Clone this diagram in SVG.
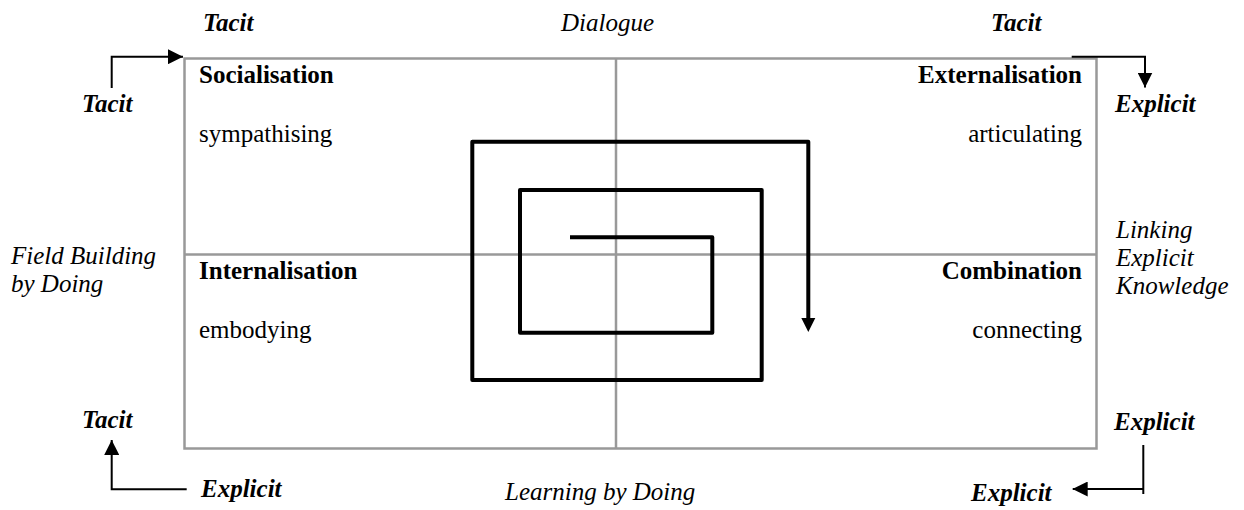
<svg xmlns="http://www.w3.org/2000/svg" width="1244" height="510" viewBox="0 0 1244 510">
<defs>
<style>
text{font-family:"Liberation Serif","Times New Roman",serif;font-size:25px;fill:#000}
.bi{font-weight:bold;font-style:italic}
.b{font-weight:bold}
.i{font-style:italic}
.grid{fill:none;stroke:#999;stroke-width:2.5}
.arr{fill:none;stroke:#000;stroke-width:2}
.spiral{fill:none;stroke:#000;stroke-width:4;stroke-linejoin:round}
</style>
<marker id="ah" viewBox="0 0 10 10" refX="10" refY="5" markerWidth="15" markerHeight="15" markerUnits="userSpaceOnUse" orient="auto">
<path d="M0,0 L10,5 L0,10 z" fill="#000"/>
</marker>
</defs>
<rect width="1244" height="510" fill="#fff"/>
<g id="matrix">
<rect class="grid" x="184.5" y="58.5" width="912" height="390"/>
<line class="grid" x1="616" y1="58.5" x2="616" y2="448.5"/>
<line class="grid" x1="184.5" y1="254.5" x2="1096.5" y2="254.5"/>
</g>
<g id="socialisation">
<text class="b" x="199" y="83">Socialisation</text>
<text x="199" y="142">sympathising</text>
</g>
<g id="externalisation">
<text class="b" x="1082" y="83" text-anchor="end">Externalisation</text>
<text x="1082" y="142" text-anchor="end">articulating</text>
</g>
<g id="internalisation">
<text class="b" x="199" y="279">Internalisation</text>
<text x="199" y="338">embodying</text>
</g>
<g id="combination">
<text class="b" x="1082" y="279" text-anchor="end">Combination</text>
<text x="1082" y="338" text-anchor="end">connecting</text>
</g>
<g id="labels">
<text class="bi" x="203" y="31">Tacit</text>
<text class="i" x="561" y="31">Dialogue</text>
<text class="bi" x="991" y="31">Tacit</text>
<text class="bi" x="82" y="112">Tacit</text>
<text class="bi" x="1115" y="112">Explicit</text>
<text class="i" x="11" y="264">Field Building</text>
<text class="i" x="11" y="291.5">by Doing</text>
<text class="i" x="1116" y="238">Linking</text>
<text class="i" x="1116" y="266">Explicit</text>
<text class="i" x="1116" y="293.5">Knowledge</text>
<text class="bi" x="82" y="428">Tacit</text>
<text class="bi" x="1114" y="430">Explicit</text>
<text class="bi" x="201" y="497">Explicit</text>
<text class="i" x="505" y="500">Learning by Doing</text>
<text class="bi" x="971" y="501">Explicit</text>
</g>
<g id="connectors">
<path class="arr" d="M111.7,88 V56.7 H183" marker-end="url(#ah)"/>
<path class="arr" d="M1071.7,56.7 H1145 V87.5" marker-end="url(#ah)"/>
<path class="arr" d="M186.7,489.3 H111.7 V440" marker-end="url(#ah)"/>
<path class="arr" d="M1143.3,445 V494"/>
<path class="arr" d="M1143.3,489 H1072.7" marker-end="url(#ah)"/>
<path class="spiral" d="M570,237.3 H712.3 V332.7 H520 V190 H761.7 V380 H472.3 V141.7 H808.3 V320"/>
<path d="M801.3,318 L815.3,318 L808.3,332 z" fill="#000"/>
</g>
</svg>
